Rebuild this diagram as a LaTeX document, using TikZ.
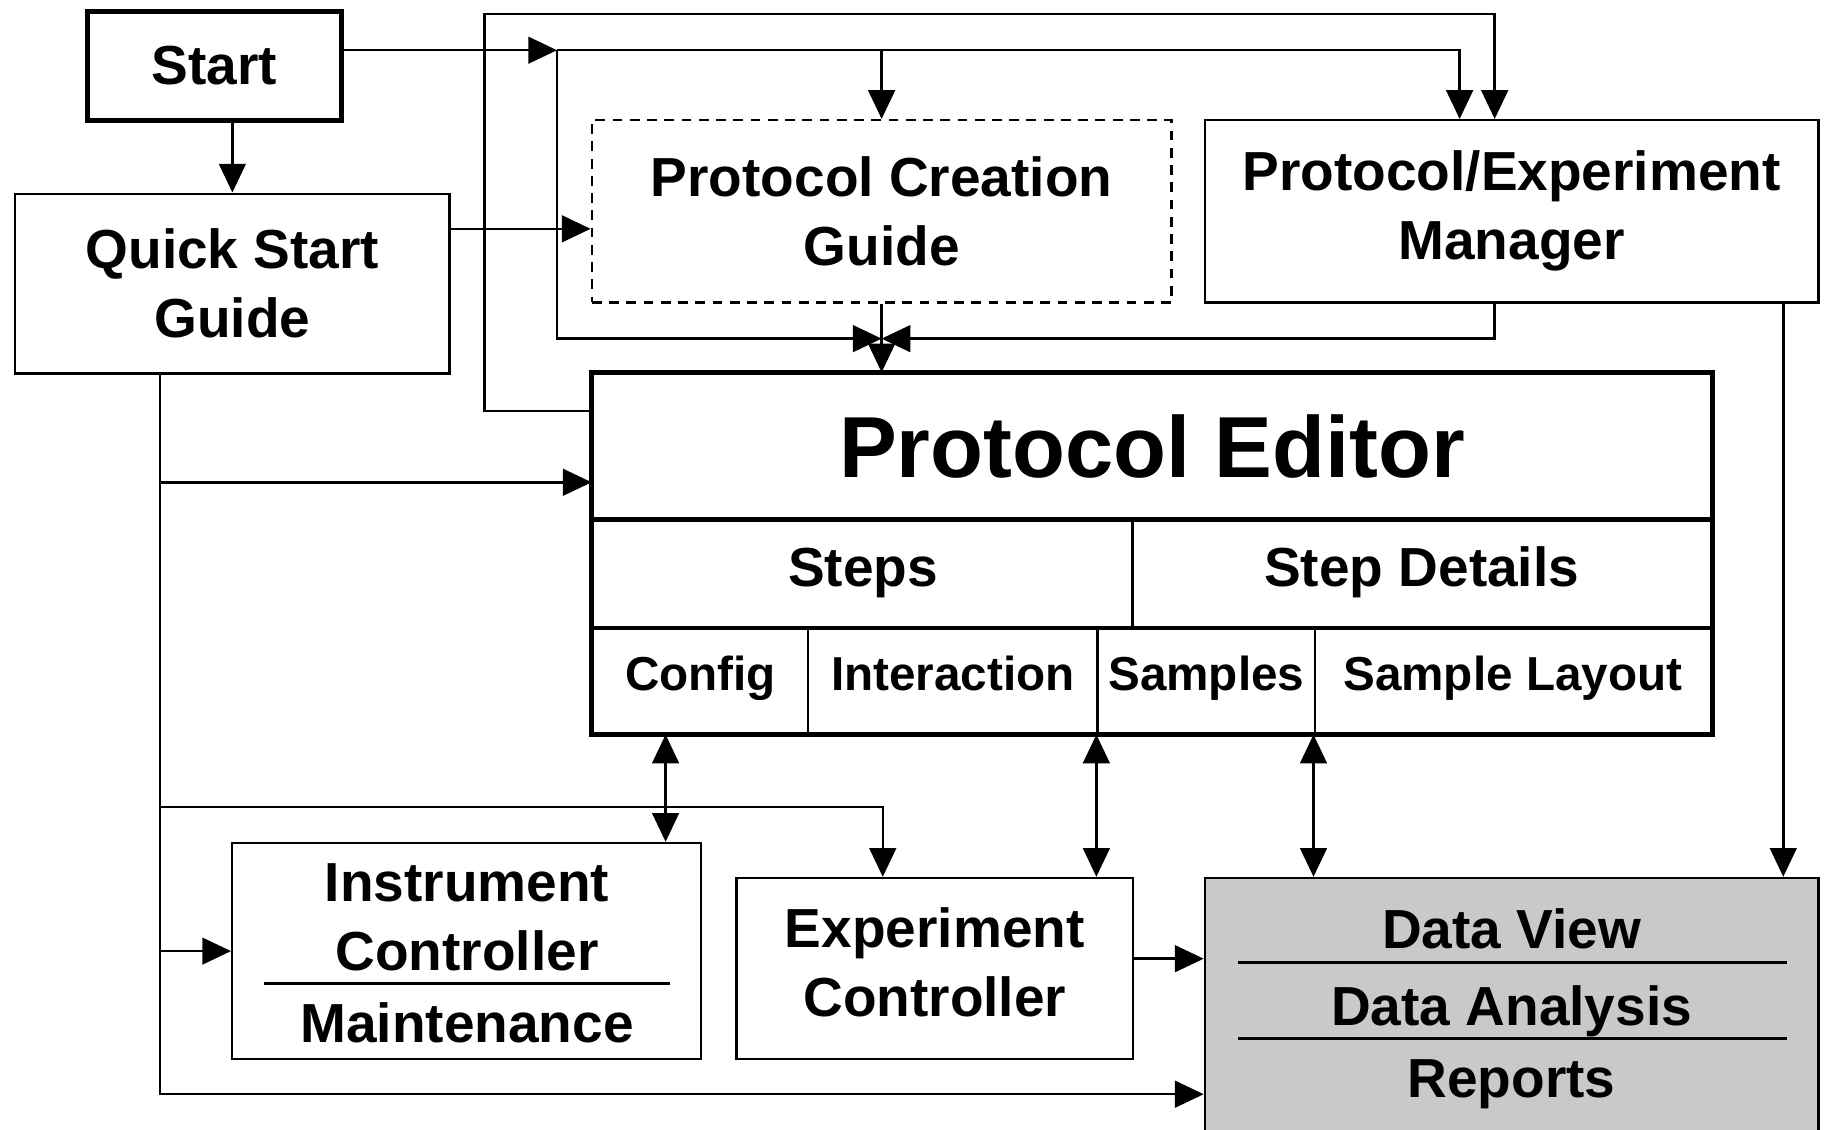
\documentclass[tikz,border=0pt]{standalone}
\usepackage{fontspec}
\setsansfont{Liberation Sans}
\usetikzlibrary{arrows.meta, calc}

\definecolor{datagray}{gray}{0.79}

\tikzset{
	box/.style={draw, line width=0.6pt, inner sep=0pt, align=center},
	cell/.style={draw, line width=0.6pt, inner sep=0pt},
	subcell/.style={cell, minimum height=0.91cm, text height=0.72em, text depth=0.21em, font=\sffamily\bfseries\fontsize{11.6}{14}\selectfont},
	wire/.style={line width=0.6pt},
	arr/.style={line width=0.6pt, -{Triangle[length=7pt, width=6.5pt]}},
	dbl/.style={line width=0.6pt, {Triangle[length=7pt, width=6.5pt]}-{Triangle[length=7pt, width=6.5pt]}},
}

\begin{document}
\begin{tikzpicture}[x=0.01cm, y=-0.01cm, font=\sffamily\bfseries\fontsize{13.4}{16.8}\selectfont]
	\def\big{\fontsize{21.1}{25}\selectfont}

	\clip (0,0) rectangle (1568,967);
	\fill[white] (0,0) rectangle (1568,967);

	% upper boxes
	\node[box, line width=1.2pt, minimum width=2.17cm, minimum height=0.93cm]	(start) at (183.5,56.5) {Start};
	\node[box, minimum width=3.72cm, minimum height=1.54cm]	(qsg) at (199,243) {Quick Start\\Guide};
	\node[box, dash pattern=on 2.4pt off 1.8pt, minimum width=4.96cm, minimum height=1.56cm]	(pcg) at (755,181) {Protocol Creation\\Guide};
	\node[box, minimum width=5.25cm, minimum height=1.56cm]	(pem) at (1294.5,181) {Protocol/Experiment\\Manager};

	% protocol editor
	\node[cell, minimum width=9.57cm, minimum height=1.24cm, font=\sffamily\bfseries\big]	(pe) at (986.5,382) {Protocol Editor};
	\node[cell, minimum width=4.62cm, minimum height=0.93cm]	(steps) at (739,490.5) {Steps};
	\node[cell, minimum width=4.95cm, minimum height=0.93cm]	(details) at (1217.5,490.5) {Step Details};
	\node[subcell, minimum width=1.84cm]	(config) at (600,582.5) {Config};
	\node[subcell, minimum width=2.48cm]	(inter) at (816,582.5) {Interaction};
	\node[subcell, minimum width=1.86cm]	(samples) at (1033,582.5) {Samples};
	\node[subcell, minimum width=3.39cm]	(layout) at (1295.5,582.5) {Sample Layout};
	\draw[line width=1.2pt]	(config.south west) rectangle (pe.north east);
	\draw[line width=1pt]		(pe.south west) -- (pe.south east);
	\draw[line width=1pt]		(steps.south west) -- (details.south east);

	% lower boxes
	\node[box, minimum width=4.01cm, minimum height=1.85cm]	(ic) at (399.5,814.5) {};
	\node (icname) at (400,785.5) [align=center] {Instrument\\Controller};
	\node[anchor=base] (icmaint) at (400,893) {Maintenance};
	\draw[line width=0.7pt]	(226,842) -- (574,842);

	\node[box, minimum width=3.39cm, minimum height=1.55cm]	(ec) at (800.5,829.5) {};
	\node (ecname) at (800.5,824) [align=center] {Experiment\\Controller};

	\node[box, fill=datagray, minimum width=5.25cm, minimum height=2.38cm]	(data) at (1294.5,871) {};
	\node[anchor=base] (dview) at (1294.5,812) {Data View};
	\node[anchor=base] (danal) at (1294.5,878) {Data Analysis};
	\node[anchor=base] (drep) at (1294.5,940) {Reports};
	\draw[line width=0.7pt]	(1060,824) -- (1530,824);
	\draw[line width=0.7pt]	(1060,889) -- (1530,889);

	% connectors
	\coordinate (split) at (477,43);
	\coordinate (merge) at (755,290);
	\coordinate (looptop) at (415,12);

	\draw[arr]	(qsg.north |- start.south) -- (qsg.north);
	\draw[arr]	(start.east |- split) -- (split);
	\draw[arr]	(split) -| ([xshift=-0.445cm]pem.north);
	\draw[arr]	(pcg.north |- split) -- (pcg.north);
	\draw[arr]	(split) |- (merge);
	\draw[arr]	([xshift=-0.145cm]pem.south) |- (merge);
	\draw[arr]	(pcg.south) -- (pcg.south |- pe.north);
	\draw[arr]	([yshift=0.3cm]pe.west) -| (looptop) -| ([xshift=-0.145cm]pem.north);
	\draw[arr]	([yshift=0.47cm]qsg.east) coordinate (qe) -- (qe -| pcg.west);

	\draw[wire]	([xshift=-0.62cm]qsg.south) coordinate (qs) -- ++(0,617);
	\draw[arr]	(qs) |- ([yshift=-0.31cm]pe.west);
	\draw[arr]	(qs) -- ++(0,370) -| ([xshift=-0.445cm]ec.north);
	\draw[arr]	(qs) |- (ic.west);
	\draw[arr]	(qs) |- ([yshift=-0.66cm]data.west);

	\draw[dbl]	([xshift=-0.3cm]config.south) -- ([xshift=-0.3cm]config.south |- ic.north);
	\draw[dbl]	(samples.south west) -- (samples.south west |- ec.north);
	\draw[dbl]	(layout.south west) -- (layout.south west |- data.north);
	\draw[arr]	([xshift=2.325cm]pem.south) -- ([xshift=2.325cm]pem.south |- data.north);
	\draw[arr]	([yshift=0.085cm]ec.east) coordinate (ee) -- (ee -| data.west);
\end{tikzpicture}
\end{document}
